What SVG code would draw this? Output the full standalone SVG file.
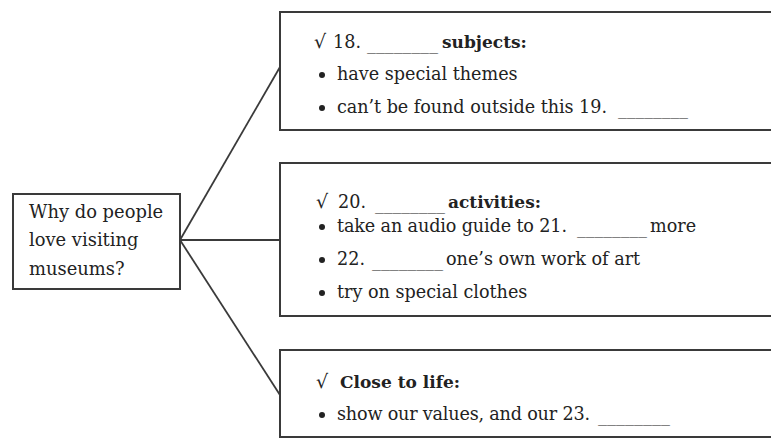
<svg xmlns="http://www.w3.org/2000/svg" width="771" height="439" viewBox="0 0 771 439">
<defs>
<style>
.box{fill:#fff;stroke:#3a3a3a;stroke-width:2}
.conn{stroke:#3a3a3a;stroke-width:1.8;fill:none}
text{font-family:"DejaVu Serif","Liberation Serif",serif;font-size:17.6px;fill:#222}
.b{font-weight:bold;font-size:17px}
.q{font-size:17.9px}
.ck{font-size:19px}
.bl{fill:#222}
</style>
</defs>
<rect width="771" height="439" fill="#fff"/>
<g id="connectors">
<line class="conn" x1="180" y1="240" x2="280" y2="67"/>
<line class="conn" x1="180" y1="240" x2="280" y2="240"/>
<line class="conn" x1="180" y1="240" x2="280" y2="395"/>
</g>
<g id="question">
<rect class="box" x="13" y="194" width="167" height="95"/>
<text class="q" x="29" y="218">Why do people</text>
<text class="q" x="29" y="246">love visiting</text>
<text class="q" x="29" y="275">museums?</text>
</g>
<g id="subjects">
<rect class="box" x="280" y="12" width="500" height="118"/>
<text class="ck" x="314" y="48">√</text>
<text x="333" y="48">18.</text>
<text x="367" y="49" textLength="71" lengthAdjust="spacingAndGlyphs">________</text>
<text class="b" x="442" y="48">subjects:</text>
<circle class="bl" cx="322" cy="75" r="3"/>
<text x="337" y="80">have special themes</text>
<circle class="bl" cx="322" cy="108" r="3"/>
<text x="337" y="113" textLength="270">can’t be found outside this 19.</text>
<text x="618" y="114" textLength="70" lengthAdjust="spacingAndGlyphs">________</text>
</g>
<g id="activities">
<rect class="box" x="280" y="163" width="500" height="153"/>
<text class="ck" x="316" y="208">√</text>
<text x="338" y="208">20.</text>
<text x="375" y="209" textLength="70" lengthAdjust="spacingAndGlyphs">________</text>
<text class="b" x="448" y="208">activities:</text>
<circle class="bl" cx="322" cy="227" r="3"/>
<text x="337" y="232" textLength="230">take an audio guide to 21.</text>
<text x="577" y="233" textLength="70" lengthAdjust="spacingAndGlyphs">________</text>
<text x="650" y="232">more</text>
<circle class="bl" cx="322" cy="260" r="3"/>
<text x="337" y="265">22.</text>
<text x="372" y="266" textLength="71" lengthAdjust="spacingAndGlyphs">________</text>
<text x="446" y="265">one’s own work of art</text>
<circle class="bl" cx="322" cy="293" r="3"/>
<text x="337" y="298">try on special clothes</text>
</g>
<g id="life">
<rect class="box" x="280" y="350" width="500" height="87"/>
<text class="ck" x="316" y="388">√</text>
<text class="b" x="340" y="388">Close to life:</text>
<circle class="bl" cx="322" cy="415" r="3"/>
<text x="337" y="420" textLength="253">show our values, and our 23.</text>
<text x="598" y="421" textLength="72" lengthAdjust="spacingAndGlyphs">________</text>
</g>
</svg>
